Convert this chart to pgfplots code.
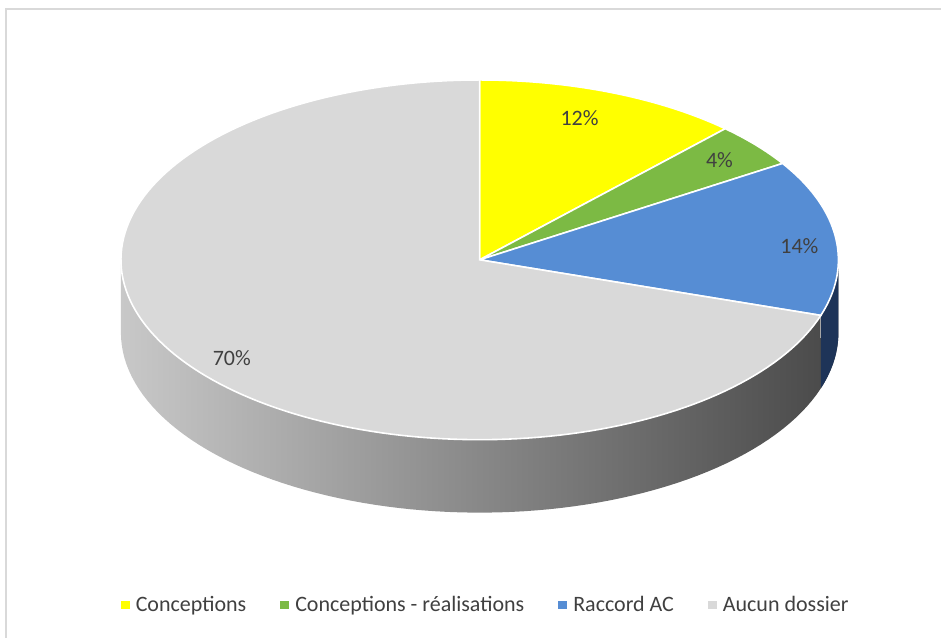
\documentclass[border=0pt]{standalone}
\usepackage{pgfplots}
\usepackage{pgfplotstable}
\pgfplotsset{compat=1.18}
\usepackage{fontspec}
\setmainfont{Carlito}
\definecolor{cYellow}{RGB}{255,255,0}
\definecolor{cGreen}{RGB}{124,186,68}
\definecolor{cBlue}{RGB}{86,141,212}
\definecolor{cGray}{RGB}{217,217,217}
\definecolor{wallL}{RGB}{200,200,200}
\definecolor{wallM}{RGB}{125,125,125}
\definecolor{wallR}{RGB}{72,72,72}
\definecolor{cNavy}{RGB}{30,52,88}
\definecolor{txt}{RGB}{64,64,64}
\definecolor{frame}{RGB}{217,217,217}

\pgfplotstableread{
key value
Conceptions 12
ConcReal 4
Raccord 14
Aucun 70
}\piedata

\begin{document}
\begin{tikzpicture}
\pgfplotstablegetelem{0}{value}\of\piedata \let\va\pgfplotsretval
\pgfplotstablegetelem{1}{value}\of\piedata \let\vb\pgfplotsretval
\pgfplotstablegetelem{2}{value}\of\piedata \let\vc\pgfplotsretval
\pgfplotstablegetelem{3}{value}\of\piedata \let\vd\pgfplotsretval
\pgfmathsetmacro\aO{90}
\pgfmathsetmacro\aA{\aO-3.6*\va}
\pgfmathsetmacro\aB{\aA-3.6*\vb}
\pgfmathsetmacro\aC{\aB-3.6*\vc}
\pgfmathsetmacro\aD{\aC-3.6*\vd}
\pgfmathsetmacro\xb{480+359*cos(\aC)}
\pgfmathsetmacro\aCw{\aC+360}
\begin{axis}[
  scale only axis, width=706.5pt, height=478.5pt,
  xmin=0, xmax=942, ymin=0, ymax=638,
  axis lines=none, clip=false,
  font=\fontsize{16.5pt}{19pt}\selectfont,
  legend columns=4,
  legend style={draw=none, fill=none, at={(axis cs:488,33)}, anchor=center,
    text=txt, font=\fontsize{16.5pt}{19pt}\selectfont,
    nodes={inner xsep=4.5pt},
    /tikz/every even column/.append style={column sep=21pt}},
  legend image code/.code={\fill[#1, draw=none] (0pt,-3pt) rectangle (6.75pt,3pt);},
]
% full canvas as bounding box
\path (axis cs:0,0) rectangle (axis cs:942,638);
% frame
\draw[frame, line width=1pt] (axis cs:6,0) -- (axis cs:6,629) -- (axis cs:942,629);

% side wall (grey, shaded)
\addplot[draw=none, left color=wallL, middle color=wallM, right color=wallR,
  domain=180:360, samples=90, variable=\t, forget plot]
  ({480+359*cos(t)}, {305+180*sin(t)}) -- (axis cs:839,378) -- (axis cs:121,378) -- cycle;
% side wall (blue slice)
\addplot[fill=cNavy, draw=none, domain=\aCw:360, samples=20, variable=\t, forget plot]
  ({480+359*cos(t)}, {305+180*sin(t)}) -- (axis cs:839,378) -- (axis cs:\xb,378) -- cycle;
\draw[gray!70, line width=0.8pt] (axis cs:\xb,378) -- (axis cs:\xb,300);

% top wedges
\addplot[fill=cYellow, draw=white, line width=1.2pt, domain=\aA:\aO, samples=40, variable=\t, forget plot]
  ({480+359*cos(t)}, {378+180*sin(t)}) -- (axis cs:480,378) -- cycle;
\addplot[fill=cGreen, draw=white, line width=1.2pt, domain=\aB:\aA, samples=20, variable=\t, forget plot]
  ({480+359*cos(t)}, {378+180*sin(t)}) -- (axis cs:480,378) -- cycle;
\addplot[fill=cBlue, draw=white, line width=1.2pt, domain=\aC:\aB, samples=40, variable=\t, forget plot]
  ({480+359*cos(t)}, {378+180*sin(t)}) -- (axis cs:480,378) -- cycle;
\addplot[fill=cGray, draw=white, line width=1.2pt, domain=\aD:\aC, samples=150, variable=\t, forget plot]
  ({480+359*cos(t)}, {378+180*sin(t)}) -- (axis cs:480,378) -- cycle;

% labels
\node[text=txt] at (axis cs:580,520) {12\%};
\node[text=txt] at (axis cs:720,478) {4\%};
\node[text=txt] at (axis cs:800,392) {14\%};
\node[text=txt] at (axis cs:232,280) {70\%};

% legend
\addlegendimage{fill=cYellow}
\addlegendentry{Conceptions}
\addlegendimage{fill=cGreen}
\addlegendentry{Conceptions - réalisations}
\addlegendimage{fill=cBlue}
\addlegendentry{Raccord AC}
\addlegendimage{fill=cGray}
\addlegendentry{Aucun dossier}
\end{axis}
\end{tikzpicture}
\end{document}
